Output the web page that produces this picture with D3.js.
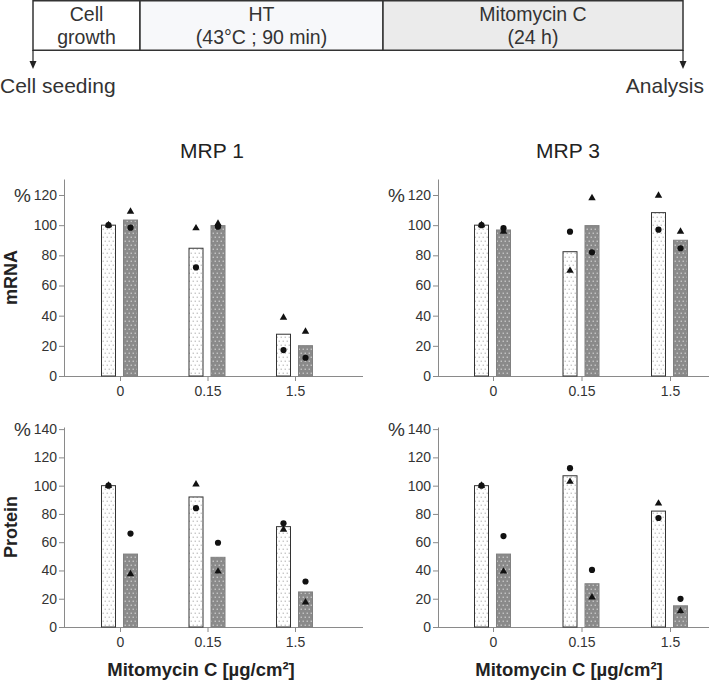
<!DOCTYPE html>
<html><head><meta charset="utf-8">
<script src="https://cdn.jsdelivr.net/npm/d3@7"></script>
<style>
html,body{margin:0;padding:0;background:#fff;}
text{font-family:"Liberation Sans",Arial,Helvetica,sans-serif;}
</style></head>
<body>
<svg id="chart" width="709" height="683"></svg>
<script>
// ---------- data ----------
const categories = ["0", "0.15", "1.5"];
const mrnaTicks = [0, 20, 40, 60, 80, 100, 120];
const proteinTicks = [0, 20, 40, 60, 80, 100, 120, 140];

// MRP 1 – mRNA
const mrp1MrnaCtrlBar = [100, 84.7, 27.7];
const mrp1MrnaCtrlDot = [100, 72, 17.2];
const mrp1MrnaCtrlTri = [100, 98, 38.7];
const mrp1MrnaHtBar = [103.4, 99.7, 20.1];
const mrp1MrnaHtDot = [98.3, 99, 12.1];
const mrp1MrnaHtTri = [109, 101, 29.4];
// MRP 3 – mRNA
const mrp3MrnaCtrlBar = [100, 82.4, 108.3];
const mrp3MrnaCtrlDot = [100, 95.7, 97];
const mrp3MrnaCtrlTri = [100, 69.8, 119.6];
const mrp3MrnaHtBar = [96.8, 99.7, 90];
const mrp3MrnaHtDot = [98, 82, 84.7];
const mrp3MrnaHtTri = [95.7, 118, 95.7];
// MRP 1 – protein
const mrp1ProtCtrlBar = [100, 92, 71];
const mrp1ProtCtrlDot = [100, 84.1, 73.4];
const mrp1ProtCtrlTri = [100, 101, 68.9];
const mrp1ProtHtBar = [51.6, 49.3, 24.8];
const mrp1ProtHtDot = [66.1, 59.6, 32.2];
const mrp1ProtHtTri = [37.4, 39.3, 17.5];
// MRP 3 – protein
const mrp3ProtCtrlBar = [100, 107, 82];
const mrp3ProtCtrlDot = [100, 112.4, 77.1];
const mrp3ProtCtrlTri = [100, 102.8, 87.4];
const mrp3ProtHtBar = [51.6, 30.6, 15];
const mrp3ProtHtDot = [64.3, 40.4, 19.9];
const mrp3ProtHtTri = [39.3, 21, 11.2];

const titles = ["MRP 1", "MRP 3"];
const rowLabels = ["mRNA", "Protein"];
const xLabel = "Mitomycin C [µg/cm²]";
const phases = ["Cell|growth", "HT|(43°C ; 90 min)", "Mitomycin C|(24 h)"];
const events = ["Cell seeding", "Analysis"];

// ---------- drawing ----------
const svg = d3.select("#chart");
const defs = svg.append("defs");

function dotPattern(id, bg, dot) {
  const p = defs.append("pattern").attr("id", id).attr("patternUnits", "userSpaceOnUse")
    .attr("width", 4).attr("height", 8);
  p.append("rect").attr("width", 4).attr("height", 8).attr("fill", bg);
  p.append("rect").attr("x", 0.6).attr("y", 0.6).attr("width", 1.3).attr("height", 1.3).attr("fill", dot);
  p.append("rect").attr("x", 2.6).attr("y", 4.6).attr("width", 1.3).attr("height", 1.3).attr("fill", dot);
}
dotPattern("patLight", "#ffffff", "#bdbdbd");
dotPattern("patDark", "#8a8a8a", "#d0d0d0");

// timeline
const tl = svg.append("g");
const bounds = [33, 140, 383, 683];
const fills = ["#ffffff", "#f7f8fa", "#ebebeb"];
phases.forEach((p, i) => {
  tl.append("rect").attr("x", bounds[i]).attr("y", 0.75).attr("width", bounds[i + 1] - bounds[i])
    .attr("height", 49.5).attr("fill", fills[i]).attr("stroke", "#333").attr("stroke-width", 1.5);
  const lines = p.split("|");
  const cx = (bounds[i] + bounds[i + 1]) / 2;
  lines.forEach((l, j) => {
    tl.append("text").attr("x", cx).attr("y", 21 + j * 23).attr("text-anchor", "middle")
      .attr("font-size", 19.5).attr("fill", "#333").text(l);
  });
});
[bounds[0], bounds[3]].forEach(x => {
  tl.append("line").attr("x1", x).attr("x2", x).attr("y1", 50).attr("y2", 62).attr("stroke", "#222").attr("stroke-width", 1.2);
  tl.append("path").attr("d", `M${x - 3.5},61 L${x + 3.5},61 L${x},69 Z`).attr("fill", "#222");
});
tl.append("text").attr("x", 0).attr("y", 93).attr("font-size", 21).attr("fill", "#333").text(events[0]);
tl.append("text").attr("x", 704).attr("y", 93).attr("text-anchor", "end").attr("font-size", 21).attr("fill", "#333").text(events[1]);

// panels
const cols = [
  { axisX: 64, xStart: 63, xEnd: 363, range: [120, 295], titleX: 212, labelX: 201 },
  { axisX: 438, xStart: 436, xEnd: 709, range: [493, 670], titleX: 568, labelX: 569 }
];
const rows = [
  { base: 376, top: 179, max: 130.6, ticks: mrnaTicks },
  { base: 627, top: 427, max: 141.5, ticks: proteinTicks }
];
const panelData = [
  [
    { cb: mrp1MrnaCtrlBar, cd: mrp1MrnaCtrlDot, ct: mrp1MrnaCtrlTri, hb: mrp1MrnaHtBar, hd: mrp1MrnaHtDot, ht: mrp1MrnaHtTri },
    { cb: mrp3MrnaCtrlBar, cd: mrp3MrnaCtrlDot, ct: mrp3MrnaCtrlTri, hb: mrp3MrnaHtBar, hd: mrp3MrnaHtDot, ht: mrp3MrnaHtTri }
  ],
  [
    { cb: mrp1ProtCtrlBar, cd: mrp1ProtCtrlDot, ct: mrp1ProtCtrlTri, hb: mrp1ProtHtBar, hd: mrp1ProtHtDot, ht: mrp1ProtHtTri },
    { cb: mrp3ProtCtrlBar, cd: mrp3ProtCtrlDot, ct: mrp3ProtCtrlTri, hb: mrp3ProtHtBar, hd: mrp3ProtHtDot, ht: mrp3ProtHtTri }
  ]
];

const barW = 14, offC = -18.5, offH = 3.5;
const tri = d3.symbol().type(d3.symbolTriangle).size(24);

rows.forEach((r, ri) => {
  cols.forEach((c, ci) => {
    const d = panelData[ri][ci];
    const g = svg.append("g");
    const x = d3.scalePoint().domain(categories).range(c.range);
    const y = d3.scaleLinear().domain([0, r.max]).range([r.base, r.top]);

    // y axis
    const ya = g.append("g").attr("transform", `translate(${c.axisX},0)`)
      .call(d3.axisLeft(y).tickValues(r.ticks).tickSize(5).tickSizeOuter(0).tickPadding(2));
    ya.select(".domain").attr("stroke", "#8a8a8a");
    ya.selectAll(".tick line").attr("stroke", "#8a8a8a");
    ya.selectAll(".tick text").attr("font-size", 14).attr("fill", "#333").attr("font-family", "Liberation Sans, Arial, sans-serif");
    const topTick = r.ticks[r.ticks.length - 1];
    g.append("text").attr("x", c.axisX - 33).attr("y", y(topTick) + 7).attr("text-anchor", "end")
      .attr("font-size", 19).attr("fill", "#333").text("%");

    // x axis
    g.append("line").attr("x1", c.xStart).attr("x2", c.xEnd).attr("y1", r.base + 0.5).attr("y2", r.base + 0.5)
      .attr("stroke", "#8a8a8a");
    const xa = g.append("g").attr("transform", `translate(0,${r.base})`)
      .call(d3.axisBottom(x).tickSize(5).tickPadding(5));
    xa.select(".domain").remove();
    xa.selectAll(".tick line").attr("stroke", "#8a8a8a");
    xa.selectAll(".tick text").attr("font-size", 14).attr("fill", "#333").attr("font-family", "Liberation Sans, Arial, sans-serif");

    // bars
    g.selectAll(".barC").data(categories).join("rect")
      .attr("x", k => x(k) + offC).attr("width", barW)
      .attr("y", (k, i) => y(d.cb[i])).attr("height", (k, i) => y(0) - y(d.cb[i]))
      .attr("fill", "url(#patLight)").attr("stroke", "#333").attr("stroke-width", 1);
    g.selectAll(".barH").data(categories).join("rect")
      .attr("x", k => x(k) + offH).attr("width", barW)
      .attr("y", (k, i) => y(d.hb[i])).attr("height", (k, i) => y(0) - y(d.hb[i]))
      .attr("fill", "url(#patDark)").attr("stroke", "#808080").attr("stroke-width", 1);

    // markers
    const series = [[d.ct, offC, "tri"], [d.ht, offH, "tri"], [d.cd, offC, "dot"], [d.hd, offH, "dot"]];
    series.forEach(([vals, off, kind]) => {
      categories.forEach((k, i) => {
        const cx = x(k) + off + barW / 2, cy = y(vals[i]);
        if (kind === "dot") {
          g.append("circle").attr("cx", cx).attr("cy", cy).attr("r", 3.1).attr("fill", "#111");
        } else {
          g.append("path").attr("d", tri).attr("transform", `translate(${cx},${cy})`).attr("fill", "#111");
        }
      });
    });

    if (ri === 0) {
      svg.append("text").attr("x", c.titleX).attr("y", 158).attr("text-anchor", "middle")
        .attr("font-size", 21).attr("fill", "#222").text(titles[ci]);
    } else {
      svg.append("text").attr("x", c.labelX).attr("y", 676).attr("text-anchor", "middle")
        .attr("font-size", 18.5).attr("font-weight", "bold").attr("fill", "#222").text(xLabel);
    }
  });
  const mid = (r.base + r.top) / 2;
  svg.append("text").attr("transform", `translate(17,${mid}) rotate(-90)`).attr("text-anchor", "middle")
    .attr("font-size", 18).attr("font-weight", "bold").attr("fill", "#222").text(rowLabels[ri]);
});
</script>
</body></html>
